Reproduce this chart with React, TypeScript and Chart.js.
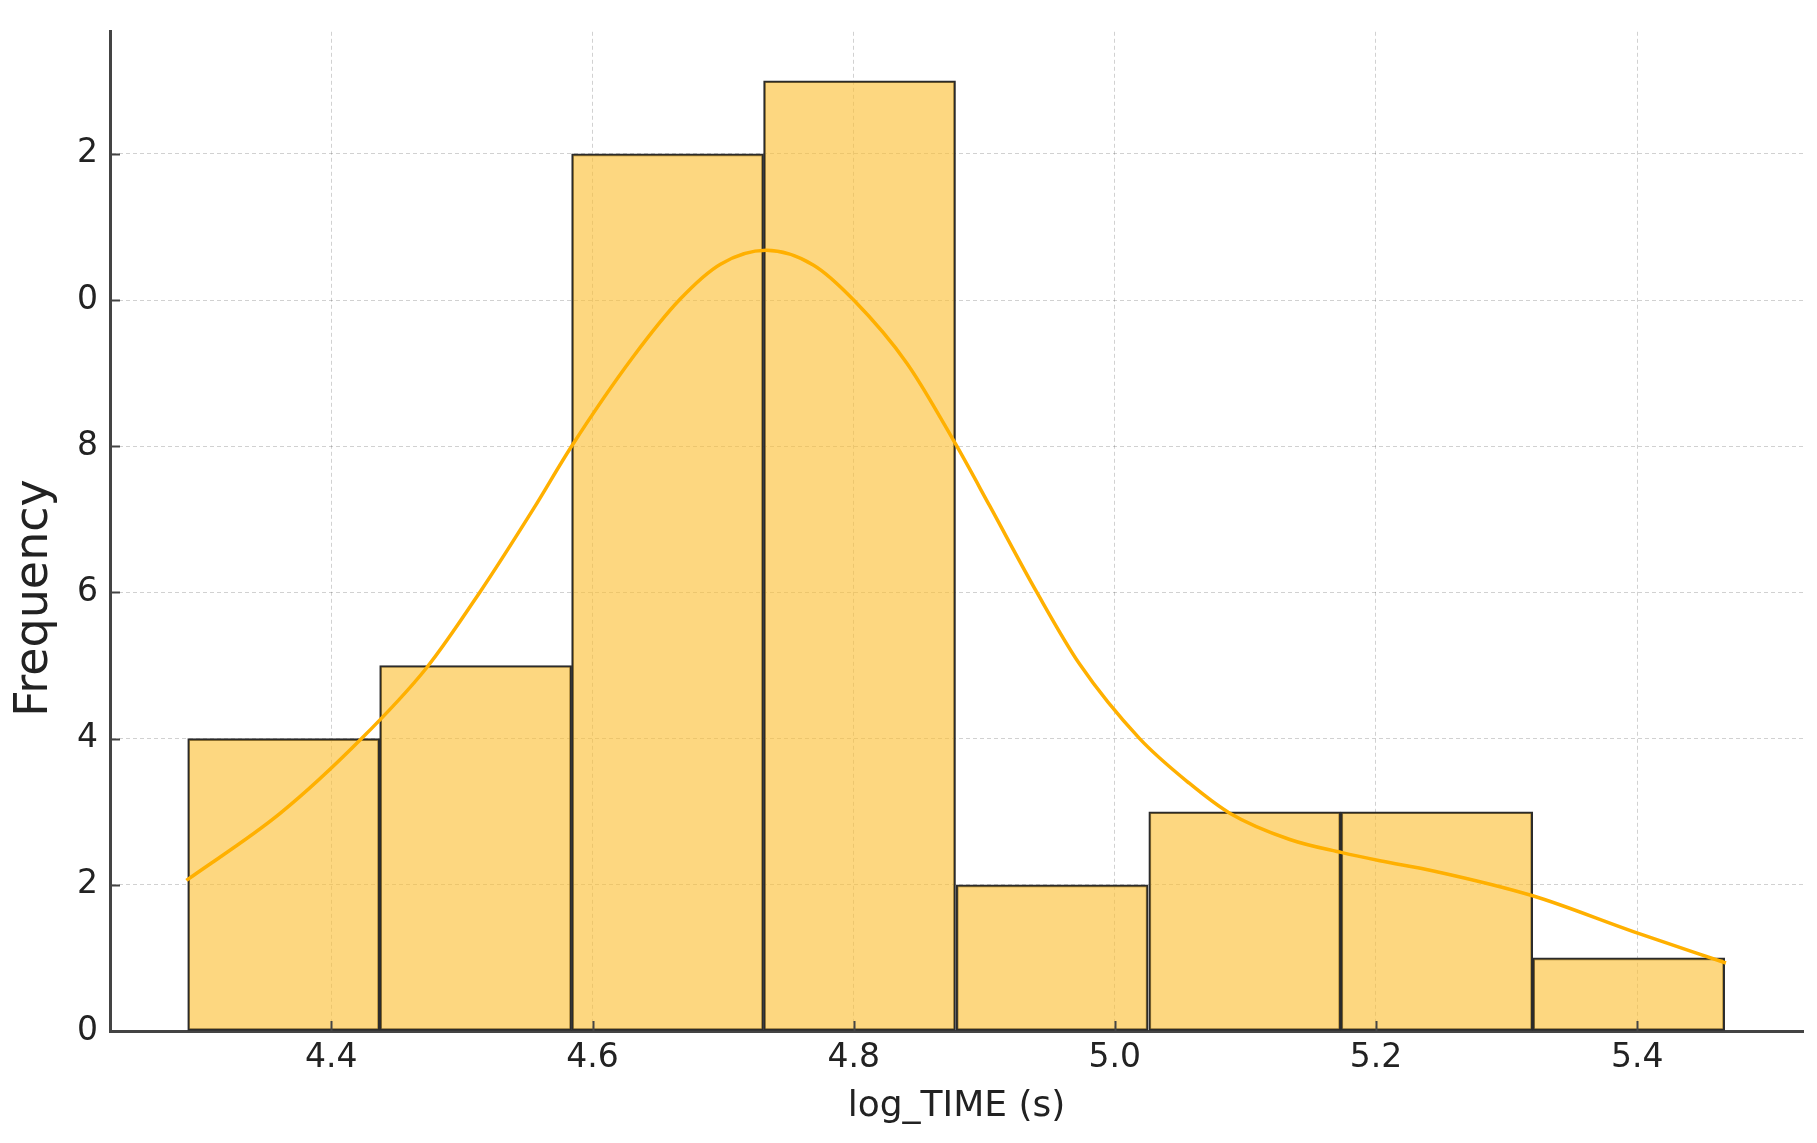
import React, { useEffect, useRef } from "react";
import { Chart, registerables } from "chart.js";

Chart.register(...registerables);

const binEdges = [4.29, 4.437, 4.584, 4.731, 4.878, 5.026, 5.173, 5.32, 5.467];
const binCounts = [4, 5, 12, 13, 2, 3, 3, 1];

const kdeX = [4.289, 4.361, 4.422, 4.473, 4.514, 4.555, 4.584, 4.631, 4.667, 4.698, 4.733, 4.769, 4.8, 4.841, 4.879, 4.904, 4.94, 4.973, 5.019, 5.057, 5.088, 5.134, 5.174, 5.203, 5.244, 5.32, 5.397, 5.468];
const kdeY = [2.06, 2.98, 3.98, 4.97, 6.01, 7.15, 8.0, 9.22, 10.01, 10.49, 10.68, 10.48, 10.0, 9.13, 8.0, 7.19, 6.01, 5.02, 4.0, 3.39, 2.98, 2.62, 2.44, 2.33, 2.19, 1.85, 1.36, 0.93];

const xTickValues = [4.4, 4.6, 4.8, 5.0, 5.2, 5.4];
const xTickLabels = ["4.4", "4.6", "4.8", "5.0", "5.2", "5.4"];
const yTickValues = [0, 2, 4, 6, 8, 10, 12];
const yTickLabels = ["0", "2", "4", "6", "8", "0", "2"];

const xTitle = "log_TIME (s)";
const yTitle = "Frequency";

const FONT = "'DejaVu Sans', sans-serif";

export default function App() {
  const ref = useRef<HTMLCanvasElement | null>(null);

  useEffect(() => {
    const canvas = ref.current;
    if (!canvas) return;

    const barData = binCounts.map((c, i) => ({ x: (binEdges[i] + binEdges[i + 1]) / 2, y: c }));
    const kdeData = kdeX.map((x, i) => ({ x, y: kdeY[i] }));

    const decor = {
      id: "decor",
      afterDraw(chart: any) {
        const { ctx, chartArea } = chart;
        const xs = chart.scales.x;
        const ys = chart.scales.y;
        ctx.save();
        ctx.strokeStyle = "#444444";
        ctx.lineWidth = 2;
        yTickValues.forEach((v) => {
          const py = Math.round(ys.getPixelForValue(v)) + 0.5;
          ctx.beginPath();
          ctx.moveTo(chartArea.left, py);
          ctx.lineTo(chartArea.left + 10, py);
          ctx.stroke();
        });
        xTickValues.forEach((v) => {
          const px = Math.round(xs.getPixelForValue(v)) + 0.5;
          ctx.beginPath();
          ctx.moveTo(px, chartArea.bottom);
          ctx.lineTo(px, chartArea.bottom - 10);
          ctx.stroke();
        });
        ctx.fillStyle = "#222222";
        ctx.textAlign = "center";
        ctx.textBaseline = "middle";
        ctx.font = `36px ${FONT}`;
        ctx.fillText(xTitle, (chartArea.left + chartArea.right) / 2, 1107);
        ctx.translate(35, 598);
        ctx.rotate(-Math.PI / 2);
        ctx.font = `46px ${FONT}`;
        ctx.fillText(yTitle, 0, 0);
        ctx.restore();
      },
    };

    const chart = new Chart(canvas, {
      type: "bar",
      data: {
        datasets: [
          {
            type: "line",
            data: kdeData,
            borderColor: "#FFB000",
            borderWidth: 3.5,
            pointRadius: 0,
            cubicInterpolationMode: "monotone",
            fill: false,
            order: 0,
          } as any,
          {
            type: "bar",
            data: barData,
            backgroundColor: "rgba(252,190,50,0.62)",
            borderColor: "#2b2b2b",
            borderWidth: 2,
            borderSkipped: false,
            barPercentage: 1,
            categoryPercentage: 1,
            order: 1,
          } as any,
        ],
      },
      options: {
        responsive: false,
        animation: false,
        devicePixelRatio: 1,
        layout: { padding: { top: 23, right: 14, left: 0, bottom: 0 } },
        plugins: { legend: { display: false }, tooltip: { enabled: false }, title: { display: false } },
        scales: {
          x: {
            type: "linear",
            offset: false,
            min: 4.2305,
            max: 5.527,
            afterBuildTicks: (axis: any) => {
              axis.ticks = xTickValues.map((v) => ({ value: v }));
            },
            afterFit: (scale: any) => {
              scale.height = 112;
            },
            ticks: {
              padding: 8,
              color: "#222222",
              font: { family: FONT, size: 33 },
              callback: (_v: any, i: number) => xTickLabels[i],
              maxRotation: 0,
            },
            grid: {
              offset: false,
              color: "rgba(0,0,0,0.18)",
              lineWidth: 1,
              drawTicks: false,
            },
            border: { display: true, color: "#444444", width: 3, dash: [4, 3] } as any,
          },
          y: {
            type: "linear",
            min: 0,
            max: 13.67,
            afterBuildTicks: (axis: any) => {
              axis.ticks = yTickValues.map((v) => ({ value: v }));
            },
            afterFit: (scale: any) => {
              scale.width = 110;
            },
            ticks: {
              padding: 12,
              color: "#222222",
              font: { family: FONT, size: 33 },
              callback: (_v: any, i: number) => yTickLabels[i],
            },
            grid: {
              color: "rgba(0,0,0,0.18)",
              lineWidth: 1,
              drawTicks: false,
            },
            border: { display: true, color: "#444444", width: 3, dash: [4, 3] } as any,
          },
        },
      },
      plugins: [decor],
    });

    return () => chart.destroy();
  }, []);

  return (
    <div style={{ position: "fixed", left: 0, top: 0, width: 1817, height: 1143, background: "#ffffff" }}>
      <canvas ref={ref} width={1817} height={1143} style={{ display: "block" }} />
    </div>
  );
}
